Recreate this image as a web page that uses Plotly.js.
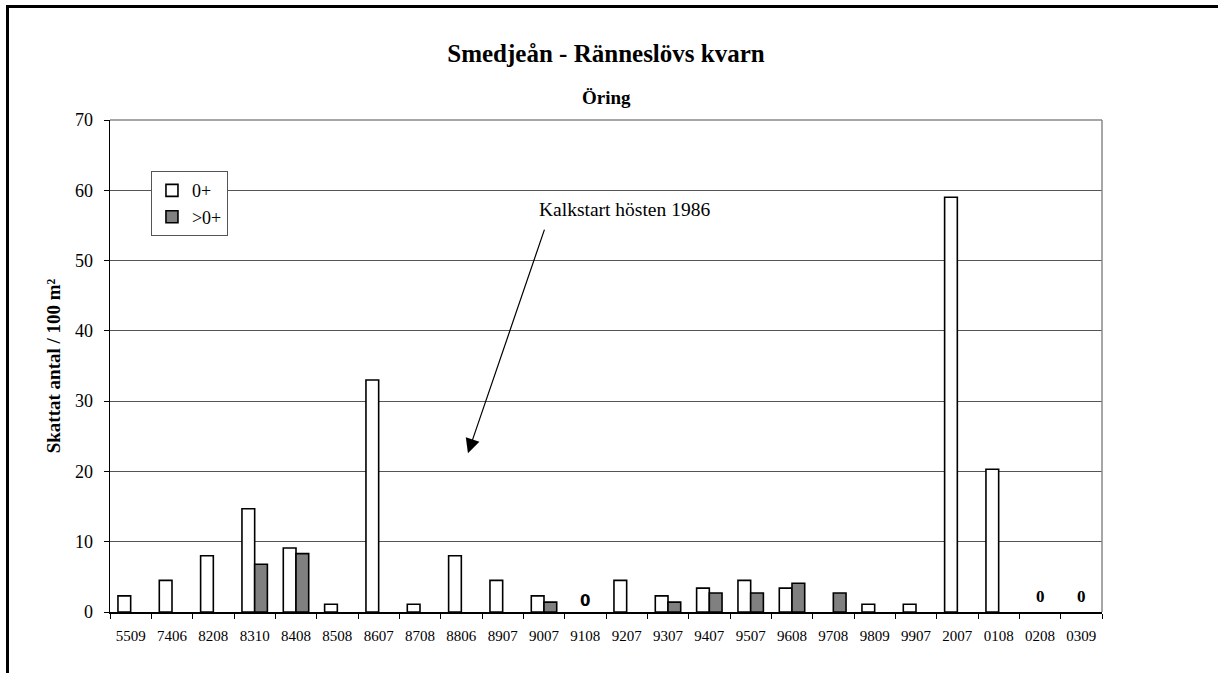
<!DOCTYPE html>
<html>
<head>
<meta charset="utf-8">
<script src="https://cdn.plot.ly/plotly-3.0.1.min.js"></script>
<style>
  html, body { margin: 0; padding: 0; background: #fff; overflow: hidden; }
  #chart { position: absolute; left: 0; top: 0; width: 1218px; height: 673px; }
  #frame { position: absolute; left: 6px; top: 5px; width: 1400px; height: 900px;
           border-left: 3px solid #000; border-top: 3px solid #000; pointer-events: none; }
</style>
</head>
<body>
<div id="chart"></div>
<div id="frame"></div>
<script>
// Sampling occasions (year + month) at Ränneslövs kvarn
const occasions = ['5509','7406','8208','8310','8408','8508','8607','8708','8806','8907',
                   '9007','9108','9207','9307','9407','9507','9608','9708','9809','9907',
                   '2007','0108','0208','0309'];

// Estimated number of trout per 100 m², young of the year (0+)
const youngOfYear = [2.3, 4.5, 8.0, 14.7, 9.1, 1.1, 33.0, 1.1, 8.0, 4.5,
                     2.3, 0, 4.5, 2.3, 3.4, 4.5, 3.4, 0, 1.1, 1.1,
                     59.0, 20.3, 0, 0];

// Estimated number of older trout per 100 m² (>0+)
const olderFish = [0, 0, 0, 6.8, 8.3, 0, 0, 0, 0, 0,
                   1.4, 0, 0, 1.4, 2.7, 2.7, 4.1, 2.7, 0, 0,
                   0, 0, 0, 0];

const yTicks = [0, 10, 20, 30, 40, 50, 60, 70];

const serif = '"Liberation Serif", "Times New Roman", Times, serif';
const sans = '"DejaVu Sans", "Liberation Sans", Arial, sans-serif';

// Zero catches leave an empty slot instead of a flat outlined bar
const nonZero = vals => vals.map(v => (v > 0 ? v : null));

const traces = [
  {
    type: 'bar', name: '0+', x: occasions, y: nonZero(youngOfYear),
    marker: { color: '#ffffff', line: { color: '#000000', width: 1.6 } },
    hoverinfo: 'x+y'
  },
  {
    type: 'bar', name: '>0+', x: occasions, y: nonZero(olderFish),
    marker: { color: '#808080', line: { color: '#000000', width: 1.6 } },
    hoverinfo: 'x+y'
  }
];

// "0" markers for occasions where no trout were caught at all
// (positioned by category index so the numeric-looking codes stay categories)
const zeroLabels = occasions
  .map((occ, i) => ({ occ, i }))
  .filter(({ i }) => youngOfYear[i] === 0 && olderFish[i] === 0)
  .map(({ occ, i }) => ({
    x: i, y: 0, xref: 'x', yref: 'y',
    text: '<b>0</b>', showarrow: false,
    yanchor: 'bottom', yshift: occ === '9108' ? 0 : 4,
    font: { family: occ === '9108' ? sans : serif, size: occ === '9108' ? 15 : 17, color: '#000' }
  }));

const layout = {
  width: 1218, height: 673,
  margin: { l: 110, r: 116, t: 120, b: 61 },
  paper_bgcolor: '#ffffff', plot_bgcolor: '#ffffff',
  font: { family: serif, color: '#000' },
  title: {
    text: '<b>Smedjeån - Ränneslövs kvarn</b>',
    font: { family: serif, size: 25, color: '#000' },
    x: 0.5, xref: 'paper', y: 1 - 53 / 673, yref: 'container', yanchor: 'middle'
  },
  barmode: 'group', bargap: 0.385, bargroupgap: 0,
  showlegend: true,
  legend: {
    x: 0.0413, y: 0.896, xanchor: 'left', yanchor: 'top',
    bgcolor: '#ffffff', bordercolor: '#555', borderwidth: 1,
    font: { family: serif, size: 18, color: '#000' },
    itemwidth: 30, tracegroupgap: 0
  },
  xaxis: {
    type: 'category', categoryorder: 'array', categoryarray: occasions,
    range: [-0.5, occasions.length - 0.5], autorange: false,
    showline: true, linecolor: '#000', linewidth: 1.5,
    ticks: 'outside', tickson: 'boundaries', ticklen: 5, tickcolor: '#000', tickwidth: 1,
    tickfont: { family: serif, size: 15, color: '#000' }, tickangle: 0,
    ticklabelstandoff: 9,
    showgrid: false, zeroline: false, fixedrange: true
  },
  yaxis: {
    range: [0, 70], autorange: false, tickvals: yTicks, ticktext: yTicks.map(String),
    showline: true, linecolor: '#000', linewidth: 1.5,
    ticks: 'outside', ticklen: 5, tickcolor: '#000', tickwidth: 1,
    tickfont: { family: serif, size: 18, color: '#000' },
    ticklabelstandoff: 7,
    showgrid: true, gridcolor: '#555', gridwidth: 1,
    zeroline: false, fixedrange: true,
    title: {
      text: '<b>Skattat antal / 100 m²</b>',
      font: { family: serif, size: 19, color: '#000' },
      standoff: 9
    }
  },
  shapes: [
    { type: 'line', xref: 'paper', yref: 'paper', x0: 0, x1: 1, y0: 1, y1: 1,
      line: { color: '#888', width: 1.5 } },
    { type: 'line', xref: 'paper', yref: 'paper', x0: 1, x1: 1, y0: 0, y1: 1,
      line: { color: '#888', width: 1.5 } }
  ],
  annotations: [
    {
      text: '<b>Öring</b>', xref: 'paper', yref: 'paper', x: 0.5, y: (612 - 97) / 492,
      xanchor: 'center', yanchor: 'middle', showarrow: false,
      font: { family: serif, size: 19, color: '#000' }
    },
    {
      text: 'Kalkstart hösten 1986', xref: 'paper', yref: 'paper',
      x: 0.519, y: 0.819, xanchor: 'center', yanchor: 'middle', showarrow: false,
      font: { family: serif, size: 19.5, color: '#000' }
    },
    {
      text: '', xref: 'x', yref: 'y', x: 8.16, y: 22.6,
      axref: 'pixel', ayref: 'pixel', ax: 77, ay: -225,
      showarrow: true, arrowhead: 2, arrowsize: 2.4, arrowwidth: 1.2, arrowcolor: '#000'
    }
  ].concat(zeroLabels)
};

Plotly.newPlot('chart', traces, layout, { staticPlot: true, displayModeBar: false });
</script>
</body>
</html>
